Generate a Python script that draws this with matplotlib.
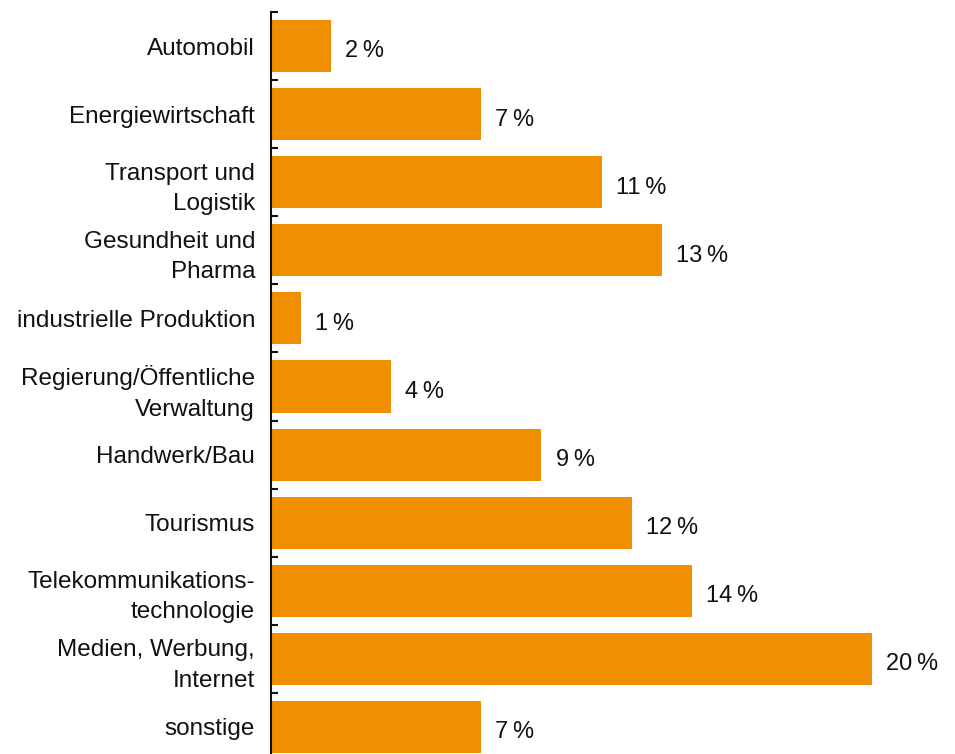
import matplotlib
matplotlib.use("Agg")
import matplotlib.pyplot as plt
import numpy as np

plt.rcParams["font.family"] = ["Liberation Sans", "DejaVu Sans"]

categories = [
    "Automobil",
    "Energiewirtschaft",
    "Transport und\nLogistik",
    "Gesundheit und\nPharma",
    "industrielle Produktion",
    "Regierung/Öffentliche\nVerwaltung",
    "Handwerk/Bau",
    "Tourismus",
    "Telekommunikations-\ntechnologie",
    "Medien, Werbung,\nInternet",
    "sonstige",
]
values = [2, 7, 11, 13, 1, 4, 9, 12, 14, 20, 7]
value_labels = ["2\u2009%", "7\u2009%", "11\u2009%", "13\u2009%", "1\u2009%", "4\u2009%",
                "9\u2009%", "12\u2009%", "14\u2009%", "20\u2009%", "7\u2009%"]

fig = plt.figure(figsize=(9.55, 7.54), dpi=100)
ax = fig.add_axes([271 / 955, -7 / 754, 661 / 955, 749 / 754])

y = np.arange(len(categories))
ax.barh(y, values, height=0.765, color="#F09000")

for yi, v, lab in zip(y, values, value_labels):
    ax.text(v + 0.47, yi + 0.08, lab, va="center", ha="left", fontsize=17, color="#111111")

ax.set_xlim(0, 22)
ax.set_ylim(len(categories) - 0.5, -0.5)
ax.set_yticks(y)
ax.set_yticklabels(categories, fontsize=17.5, linespacing=1.48, color="#111111")
ax.set_yticks(np.arange(-0.5, len(categories), 1), minor=True)
ax.tick_params(axis="y", which="major", length=0, pad=11.5)
ax.tick_params(axis="y", which="minor", direction="in", length=5, width=1.5, color="#111111")
ax.set_xticks([])
for s in ["top", "right", "bottom"]:
    ax.spines[s].set_visible(False)
ax.spines["left"].set_linewidth(1.5)
ax.spines["left"].set_color("#111111")

fig.savefig("out.png", dpi=100)
